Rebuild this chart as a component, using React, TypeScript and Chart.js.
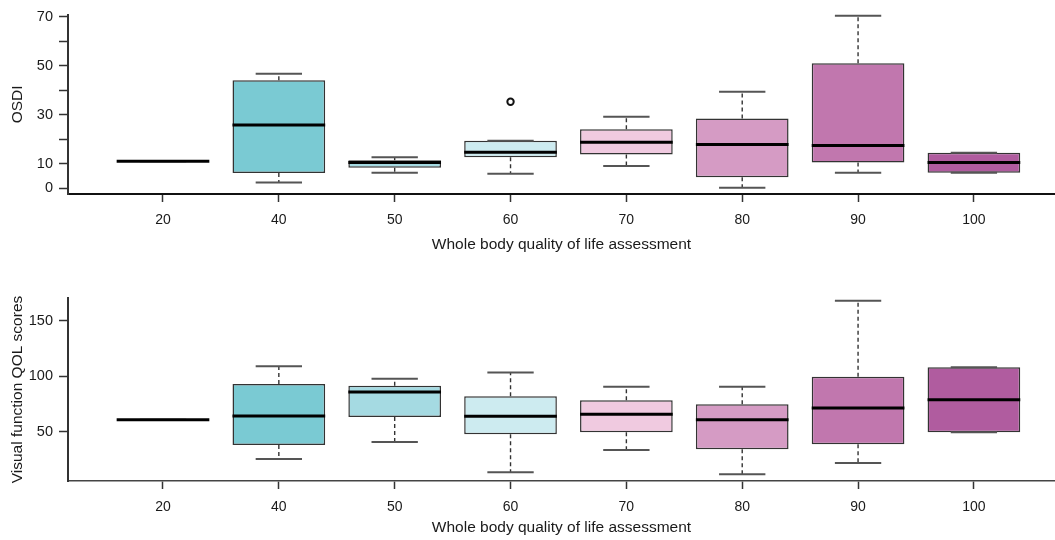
import React, { useEffect, useRef } from "react";
import { Chart, registerables } from "chart.js";

Chart.register(...registerables);

// ---------- data ----------
const CATEGORIES = ["20", "40", "50", "60", "70", "80", "90", "100"];
const BOX_COLORS = ["#7ACAD3", "#7ACAD3", "#A5DAE2", "#CDEBF0", "#F0CAE0", "#D59BC4", "#C177AE", "#B05C9F"];

const OSDI_Q1 = [11, 6.2, 8.3, 12.6, 13.7, 4.4, 10.5, 6.3];
const OSDI_MED = [11, 25.8, 10.5, 14.7, 18.8, 17.8, 17.4, 10.5];
const OSDI_Q3 = [11, 44.1, 11.4, 19.4, 24.1, 28.5, 51.1, 14.5];
const OSDI_LO = [11, 2.3, 6.3, 5.9, 9.0, 0.2, 6.3, 6.3];
const OSDI_HI = [11, 46.8, 12.6, 19.4, 29.2, 39.4, 70.5, 14.5];
const OSDI_OUTLIER_X = [4];
const OSDI_OUTLIER_Y = [35.3];
const OSDI_TICKS = [0, 10, 20, 30, 40, 50, 60, 70];
const OSDI_TICK_LABELS = ["0", "10", "", "30", "", "50", "", "70"];

const QOL_Q1 = [60.8, 38.0, 63.2, 47.6, 49.5, 34.1, 38.6, 49.5];
const QOL_MED = [60.8, 64.1, 85.8, 63.9, 65.7, 60.8, 71.4, 78.8];
const QOL_Q3 = [60.8, 93.0, 91.4, 81.9, 78.3, 74.7, 99.5, 108.0];
const QOL_LO = [60.8, 25.4, 40.7, 13.4, 33.5, 11.6, 21.8, 49.5];
const QOL_HI = [60.8, 108.9, 97.7, 103.2, 90.5, 90.5, 168.0, 108.0];
const QOL_TICKS = [50, 100, 150];
const QOL_TICK_LABELS = ["50", "100", "150"];

const X_TITLE = "Whole body quality of life assessment";

type BoxSet = { q1: number[]; med: number[]; q3: number[]; lo: number[]; hi: number[] };

const FONT = "'Liberation Sans', Arial, Helvetica, sans-serif";
const TEXT = "#1a1a1a";

function makeBoxPlugin(box: BoxSet) {
  return {
    id: "boxWhiskers",
    afterDatasetsDraw(chart: any) {
      const meta = chart.getDatasetMeta(0);
      const xs = chart.scales.x;
      const ys = chart.scales.y;
      const ctx = chart.ctx as CanvasRenderingContext2D;
      ctx.save();
      box.med.forEach((m, i) => {
        const el: any = meta.data[i];
        if (!el) return;
        const cx = xs.getPixelForValue(i + 1);
        const half = el.width / 2;
        const yq1 = ys.getPixelForValue(box.q1[i]);
        const yq3 = ys.getPixelForValue(box.q3[i]);
        const ylo = ys.getPixelForValue(box.lo[i]);
        const yhi = ys.getPixelForValue(box.hi[i]);
        const ymed = ys.getPixelForValue(m);
        // dashed whiskers
        ctx.setLineDash([4, 3]);
        ctx.strokeStyle = "#333";
        ctx.lineWidth = 1.4;
        ctx.beginPath();
        if (box.hi[i] > box.q3[i]) {
          ctx.moveTo(cx, yq3);
          ctx.lineTo(cx, yhi);
        }
        if (box.lo[i] < box.q1[i]) {
          ctx.moveTo(cx, yq1);
          ctx.lineTo(cx, ylo);
        }
        ctx.stroke();
        ctx.setLineDash([]);
        // caps
        ctx.strokeStyle = "#555";
        ctx.lineWidth = 2;
        ctx.beginPath();
        ctx.moveTo(cx - half / 2, yhi);
        ctx.lineTo(cx + half / 2, yhi);
        ctx.moveTo(cx - half / 2, ylo);
        ctx.lineTo(cx + half / 2, ylo);
        ctx.stroke();
        // median
        ctx.strokeStyle = "#000";
        ctx.lineWidth = 3;
        ctx.beginPath();
        ctx.moveTo(cx - half, ymed);
        ctx.lineTo(cx + half, ymed);
        ctx.stroke();
      });
      ctx.restore();
    },
  };
}

type Props = {
  box: BoxSet;
  outX: number[];
  outY: number[];
  ticks: number[];
  tickLabels: string[];
  yMin: number;
  yMax: number;
  yTitle: string;
  padTop: number;
  xHeight: number;
  xTitlePad: number;
  xBorderColor: string;
  xBorderWidth: number;
};

function BoxChart(p: Props) {
  const ref = useRef<HTMLCanvasElement | null>(null);
  useEffect(() => {
    if (!ref.current) return;
    const datasets: any[] = [
      {
        type: "bar",
        data: CATEGORIES.map((_, i) => ({ x: i + 1, y: [p.box.q1[i], p.box.q3[i]] })),
        backgroundColor: BOX_COLORS,
        borderColor: "#333",
        borderWidth: 1.5,
        borderSkipped: false,
        barPercentage: 0.8,
        categoryPercentage: 1,
      },
    ];
    if (p.outX.length) {
      datasets.push({
        type: "scatter",
        data: p.outX.map((x, i) => ({ x, y: p.outY[i] })),
        pointRadius: 3.2,
        pointBorderWidth: 2,
        pointBorderColor: "#111",
        pointBackgroundColor: "rgba(255,255,255,0)",
      });
    }
    const chart = new Chart(ref.current, {
      type: "bar",
      data: { datasets },
      plugins: [makeBoxPlugin(p.box)],
      options: {
        animation: false,
        responsive: true,
        maintainAspectRatio: false,
        layout: { autoPadding: false, padding: { top: p.padTop, left: 0, right: 0, bottom: 0 } },
        plugins: { legend: { display: false }, tooltip: { enabled: false } },
        scales: {
          x: {
            type: "linear",
            min: 0.18,
            max: 8.7,
            offset: false,
            afterBuildTicks: (s: any) => {
              s.ticks = CATEGORIES.map((_, i) => ({ value: i + 1 }));
            },
            afterFit: (s: any) => {
              s.height = p.xHeight;
            },
            ticks: {
              autoSkip: false,
              maxRotation: 0,
              padding: 10,
              color: TEXT,
              font: { family: FONT, size: 14 },
              callback: (v: any) => CATEGORIES[Math.round(Number(v)) - 1] ?? "",
            },
            grid: {
              offset: false,
              drawOnChartArea: false,
              drawTicks: true,
              tickLength: 8,
              color: "#333",
              tickColor: "#333",
              tickWidth: 1.5,
            },
            border: { display: true, color: p.xBorderColor, width: p.xBorderWidth },
            title: {
              display: true,
              text: X_TITLE,
              color: TEXT,
              font: { family: FONT, size: 15.5 },
              padding: { top: 0, bottom: p.xTitlePad },
            },
          },
          y: {
            type: "linear",
            min: p.yMin,
            max: p.yMax,
            afterBuildTicks: (s: any) => {
              s.ticks = p.ticks.map((v) => ({ value: v }));
            },
            afterFit: (s: any) => {
              s.width = 68;
            },
            ticks: {
              autoSkip: false,
              padding: 6,
              color: TEXT,
              font: { family: FONT, size: 14.5 },
              callback: (v: any) => {
                const k = p.ticks.indexOf(Number(v));
                return k >= 0 ? p.tickLabels[k] : "";
              },
            },
            grid: { drawOnChartArea: false, drawTicks: true, tickLength: 9, color: "#333", tickColor: "#333", tickWidth: 1.5 },
            border: { display: true, color: "#333", width: 2 },
            title: {
              display: true,
              text: p.yTitle,
              color: TEXT,
              font: { family: FONT, size: 15.5 },
              padding: { top: 8.7, bottom: 0 },
            },
          },
        },
      } as any,
    });
    return () => chart.destroy();
  }, []);
  return (
    <div style={{ position: "relative", width: 1055, height: 270 }}>
      <canvas ref={ref} />
    </div>
  );
}

export default function App() {
  return (
    <div style={{ position: "absolute", left: 0, top: 0, width: 1055, height: 540, background: "#fff" }}>
      <BoxChart
        box={{ q1: OSDI_Q1, med: OSDI_MED, q3: OSDI_Q3, lo: OSDI_LO, hi: OSDI_HI }}
        outX={OSDI_OUTLIER_X}
        outY={OSDI_OUTLIER_Y}
        ticks={OSDI_TICKS}
        tickLabels={OSDI_TICK_LABELS}
        yMin={-2.4}
        yMax={70.9}
        yTitle="OSDI"
        padTop={13}
        xHeight={76}
        xTitlePad={15.7}
        xBorderColor="#111"
        xBorderWidth={2}
      />
      <BoxChart
        box={{ q1: QOL_Q1, med: QOL_MED, q3: QOL_Q3, lo: QOL_LO, hi: QOL_HI }}
        outX={[]}
        outY={[]}
        ticks={QOL_TICKS}
        tickLabels={QOL_TICK_LABELS}
        yMin={5.6}
        yMax={170.4}
        yTitle="Visual function QOL scores"
        padTop={28}
        xHeight={59}
        xTitlePad={2.7}
        xBorderColor="#444"
        xBorderWidth={1.6}
      />
    </div>
  );
}
